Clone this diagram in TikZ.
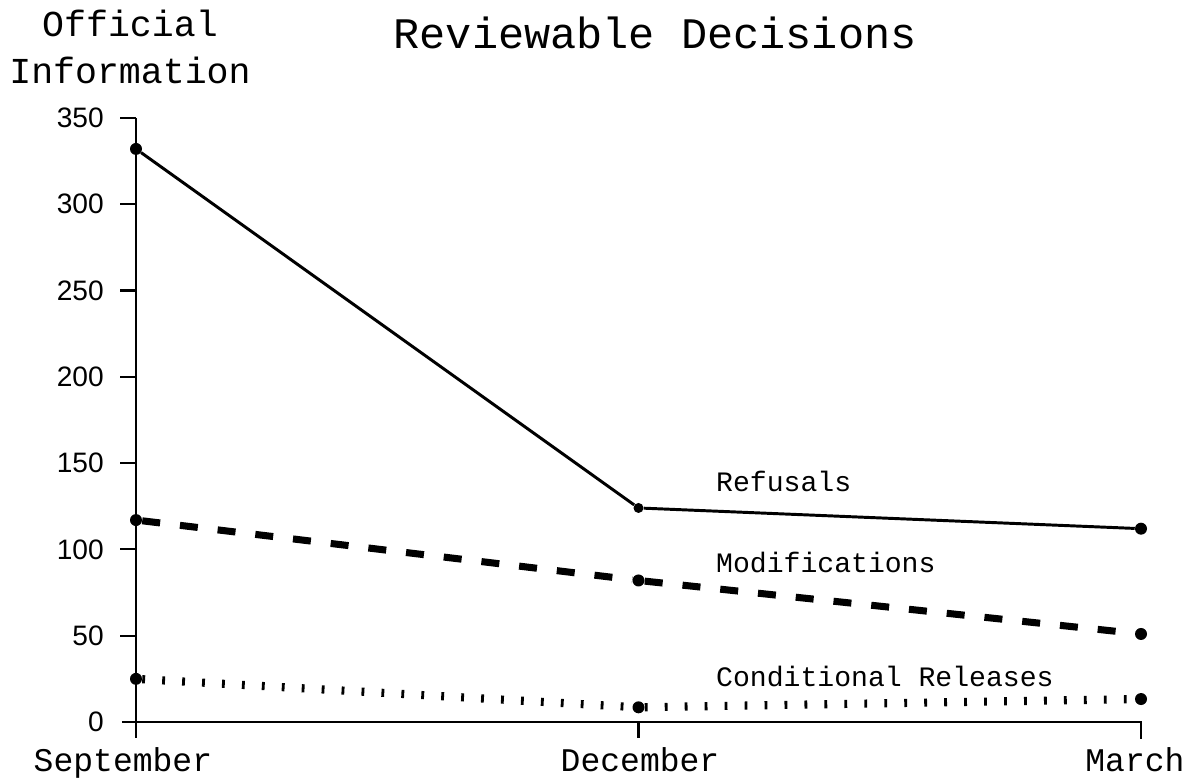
\documentclass[tikz,border=0pt]{standalone}
\usepackage{fontspec}
\setmonofont{Liberation Mono}
\setsansfont{Liberation Sans}
\usepackage{tikz}
\usetikzlibrary{positioning}

\tikzset{
  dot/.style={circle, fill=black, inner sep=0pt, minimum size=0.3cm},
  lbl/.style={font=\ttfamily\fontsize{20}{24}\selectfont, anchor=west, inner sep=0pt},
  month/.style={font=\ttfamily\fontsize{23.5}{28}\selectfont, anchor=base, inner sep=0pt},
  ticklbl/.style={font=\sffamily\fontsize{20}{24}\selectfont, anchor=east, inner sep=0pt},
  refusal/.style={line width=2.1pt},
  modline/.style={line width=5pt, dash pattern=on 12.8pt off 14.2pt},
  condline/.style={line width=5.8pt, dash pattern=on 2pt off 12.2pt}
}

\begin{document}
\begin{tikzpicture}[x=12.5625cm, y=0.04315cm]
\useasboundingbox (-3.4cm,-1.425cm) rectangle (26.475cm,18.05cm);
\fill[white] (-3.4cm,-1.425cm) rectangle (26.475cm,18.05cm);

% axes
\coordinate (top) at (0,350);
\coordinate (bot) at (0,-9.3);
\coordinate (left) at (-0.028,0);
\coordinate (right) at (2,0);
\draw [line width=1.5pt] (top) -- (bot);
\draw [line width=1.5pt] (left) -- (right) -- ++(0,-10);
\draw [line width=1.5pt] (top) -- ++(-0.4cm,0);
\draw [line width=1.5pt] (1,0) -- ++(0,-9.5);
\foreach \v in {50,100,...,300}
  \draw [line width=1.5pt] (0,\v) -- ++(-0.4cm,0);
\foreach \v in {0,50,...,350}
  \node [ticklbl] at ([xshift=-0.8cm]0,\v) {\v};

% titles
\node [font=\ttfamily\fontsize{31}{36}\selectfont] (title) at (1.033,399) {Reviewable Decisions};
\node [font=\ttfamily\fontsize{26}{33}\selectfont, align=center] (ylabel) at (-0.012,391) {Official\\Information};

\node [month] (sep) at (-0.026,-28.4) {September};
\node [month] (dec) at (1.003,-28.4) {December};
\node [month] (mar) at (1.988,-28.4) {March};

% nodes
\node [dot] (R1) at (0,332) {};
\node [dot, minimum size=0.25cm] (R2) at (1,124) {};
\node [dot] (R3) at (2,112) {};
\node [dot] (M1) at (0,117) {};
\node [dot] (M2) at (1,82) {};
\node [dot] (M3) at (2,51) {};
\node [dot] (C1) at (0,25) {};
\node [dot] (C2) at (1,8.5) {};
\node [dot] (C3) at (2,13.3) {};

\node [lbl] (refl) at (1.154,139.6) {Refusals};
\node [lbl] (modl) at (1.154,92.7) {Modifications};
\node [lbl] (conl) at (1.154,26.1) {Conditional Releases};

% lines
\draw [refusal] (R1) -- (R2) -- (R3);
\draw [modline] (M1) -- (M2);
\draw [modline] (M2) -- (M3);
\draw [condline] (C1) -- (C2);
\draw [condline] (C2) -- (C3);
\end{tikzpicture}
\end{document}
